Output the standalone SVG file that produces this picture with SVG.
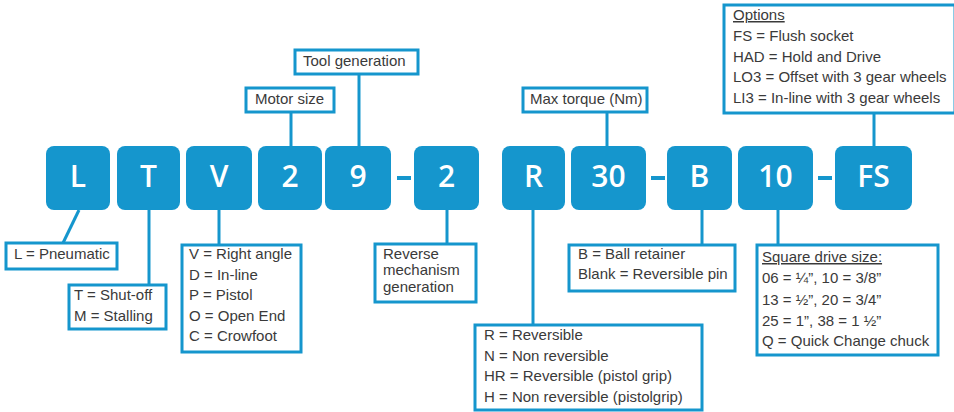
<svg xmlns="http://www.w3.org/2000/svg" width="954" height="412" viewBox="0 0 954 412">
<style>
.blk{fill:#1596cd}
.bt{font-family:"Open Sans","Liberation Sans",sans-serif;font-weight:600;font-size:30px;fill:#ffffff;text-anchor:middle}
.lb{fill:#ffffff;stroke:#1596cd;stroke-width:3}
.t{font-family:"Liberation Sans",Arial,sans-serif;font-size:15px;fill:#3a3a3a}
.u{text-decoration:underline}
.ln{stroke:#1596cd;stroke-width:3;fill:none}
.dash{fill:#1596cd}
</style>
<rect width="954" height="412" fill="#ffffff"/>
<g id="connectors">
<line class="ln" x1="79" y1="210" x2="63" y2="243"/>
<line class="ln" x1="149" y1="210" x2="149" y2="285"/>
<line class="ln" x1="219" y1="210" x2="219" y2="245"/>
<line class="ln" x1="291" y1="112" x2="291" y2="146"/>
<line class="ln" x1="359" y1="74" x2="359" y2="146"/>
<line class="ln" x1="447" y1="210" x2="447" y2="244"/>
<line class="ln" x1="533" y1="210" x2="533" y2="325"/>
<line class="ln" x1="607" y1="112" x2="607" y2="146"/>
<line class="ln" x1="702" y1="210" x2="702" y2="245"/>
<line class="ln" x1="778" y1="210" x2="778" y2="245"/>
<line class="ln" x1="874" y1="113" x2="874" y2="147"/>
<rect class="dash" x="397" y="176" width="14" height="4"/>
<rect class="dash" x="651" y="176" width="14" height="4"/>
<rect class="dash" x="818" y="176" width="14" height="4"/>
</g>
<g id="blk-L"><rect class="blk" x="46" y="146" width="64" height="64" rx="8"/><text class="bt" x="78" y="187">L</text></g>
<g id="blk-T"><rect class="blk" x="117" y="146" width="63" height="64" rx="8"/><text class="bt" x="148.5" y="187">T</text></g>
<g id="blk-V"><rect class="blk" x="186" y="146" width="66" height="64" rx="8"/><text class="bt" x="219" y="187">V</text></g>
<g id="blk-2a"><rect class="blk" x="258" y="146" width="64" height="64" rx="8"/><text class="bt" x="290" y="187">2</text></g>
<g id="blk-9"><rect class="blk" x="325" y="146" width="66" height="64" rx="8"/><text class="bt" x="358" y="187">9</text></g>
<g id="blk-2b"><rect class="blk" x="414" y="146" width="65" height="64" rx="8"/><text class="bt" x="446.5" y="187">2</text></g>
<g id="blk-R"><rect class="blk" x="502" y="146" width="63" height="64" rx="8"/><text class="bt" x="533.5" y="187">R</text></g>
<g id="blk-30"><rect class="blk" x="571" y="146" width="75" height="64" rx="8"/><text class="bt" x="608.5" y="187">30</text></g>
<g id="blk-B"><rect class="blk" x="667" y="146" width="65" height="64" rx="8"/><text class="bt" x="699.5" y="187">B</text></g>
<g id="blk-10"><rect class="blk" x="738" y="146" width="75" height="64" rx="8"/><text class="bt" x="775.5" y="187">10</text></g>
<g id="blk-FS"><rect class="blk" x="835" y="146" width="77" height="64" rx="8"/><text class="bt" x="873.5" y="187">FS</text></g>

<g id="lbl-motor"><rect class="lb" x="246" y="88" width="88" height="24"/><text class="t" x="255" y="104">Motor size</text></g>
<g id="lbl-toolgen"><rect class="lb" x="295" y="50" width="123" height="24"/><text class="t" x="303" y="66">Tool generation</text></g>
<g id="lbl-torque"><rect class="lb" x="523" y="88" width="124" height="24"/><text class="t" x="530" y="104">Max torque (Nm)</text></g>
<g id="lbl-options"><rect class="lb" x="724" y="5" width="231" height="108"/>
<text class="t" x="733" y="20"><tspan class="u">Options</tspan></text>
<text class="t" x="733" y="41">FS = Flush socket</text>
<text class="t" x="733" y="61.5">HAD = Hold and Drive</text>
<text class="t" x="733" y="82">LO3 = Offset with 3 gear wheels</text>
<text class="t" x="733" y="102.5">LI3 = In-line with 3 gear wheels</text></g>
<g id="lbl-L"><rect class="lb" x="6" y="243" width="111" height="26"/><text class="t" x="14" y="259">L = Pneumatic</text></g>
<g id="lbl-T"><rect class="lb" x="69" y="285" width="97" height="44"/>
<text class="t" x="74" y="300">T = Shut-off</text>
<text class="t" x="74" y="321">M = Stalling</text></g>
<g id="lbl-V"><rect class="lb" x="182" y="245" width="119" height="107"/>
<text class="t" x="189" y="259">V = Right angle</text>
<text class="t" x="189" y="279.5">D = In-line</text>
<text class="t" x="189" y="300">P = Pistol</text>
<text class="t" x="189" y="320.5">O = Open End</text>
<text class="t" x="189" y="341">C = Crowfoot</text></g>
<g id="lbl-rev"><rect class="lb" x="375" y="244" width="101" height="58"/>
<text class="t" x="383" y="258.5">Reverse</text>
<text class="t" x="383" y="275">mechanism</text>
<text class="t" x="383" y="292">generation</text></g>
<g id="lbl-B"><rect class="lb" x="569" y="245" width="166" height="46"/>
<text class="t" x="578" y="258.5">B = Ball retainer</text>
<text class="t" x="578" y="279">Blank = Reversible pin</text></g>
<g id="lbl-R"><rect class="lb" x="475" y="325" width="227" height="85"/>
<text class="t" x="484" y="340">R = Reversible</text>
<text class="t" x="484" y="360.5">N = Non reversible</text>
<text class="t" x="484" y="381">HR = Reversible (pistol grip)</text>
<text class="t" x="484" y="401.5">H = Non reversible (pistolgrip)</text></g>
<g id="lbl-sq"><rect class="lb" x="757" y="245" width="181" height="110"/>
<text class="t" x="762" y="262"><tspan class="u">Square drive size:</tspan></text>
<text class="t" x="762" y="283">06 = ¼”, 10 = 3/8”</text>
<text class="t" x="762" y="304.5">13 = ½”, 20 = 3/4”</text>
<text class="t" x="762" y="325.5">25 = 1”, 38 = 1 ½”</text>
<text class="t" x="762" y="346">Q = Quick Change chuck</text></g>
</svg>
